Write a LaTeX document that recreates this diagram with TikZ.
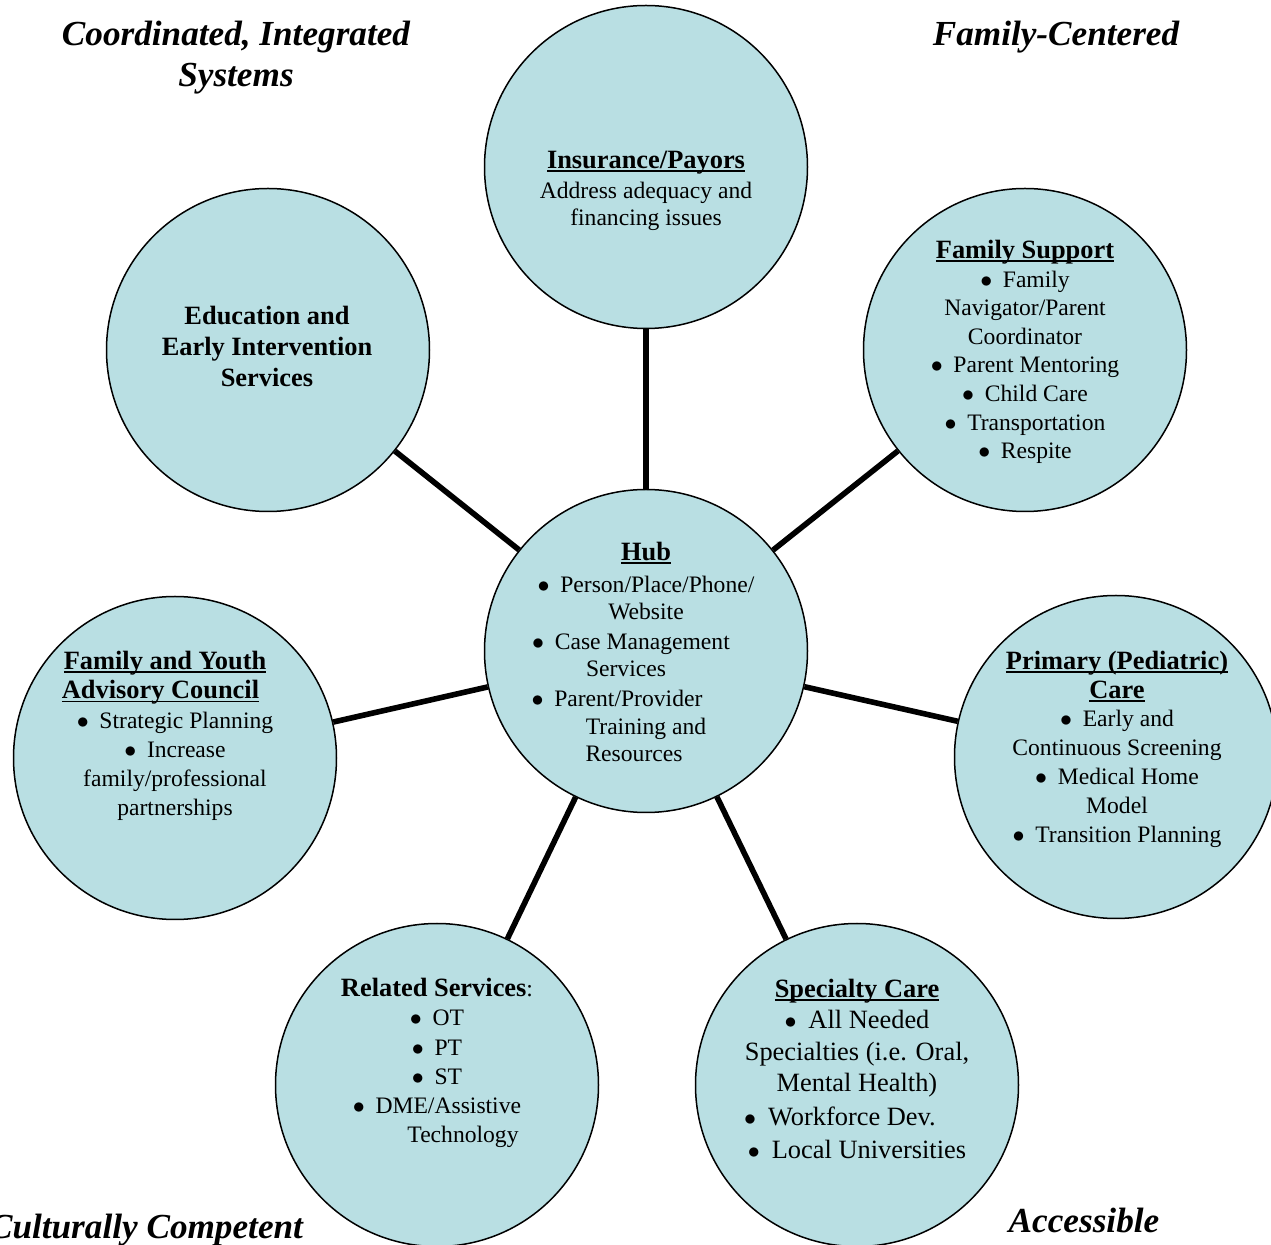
\documentclass[tikz,border=0pt]{standalone}
\usepackage{fontspec}
\setmainfont{Liberation Serif}
\usepackage{tikz}
\usetikzlibrary{calc}
\definecolor{ringblue}{HTML}{B9DFE3}
\newcommand{\dotitem}{$\bullet$\hspace{0.45em}}
\newcommand{\uhead}[1]{{\bfseries\fontsize{13.2}{15.5}\selectfont\setbox0\hbox{#1}\rlap{\rule[-1.8pt]{\wd0}{0.9pt}}\box0}}

\begin{document}
\begin{tikzpicture}[x=0.5pt,y=-0.5pt,
    ring/.style={circle, draw, line width=0.75pt, fill=ringblue, minimum size=161.5pt, inner sep=0pt},
    spoke/.style={line width=2.8pt},
    blurb/.style={align=center, inner sep=0pt},
    corner/.style={align=center, inner sep=0pt, font=\fontsize{17.6}{20.5}\selectfont\bfseries\itshape}]
	\clip (0,0) rectangle (1271,1245);
	% circles
	\node[ring] (hub) at (646,651) {};
	\node[ring] (ins) at (646,167) {};
	\node[ring] (fam) at (1025,350) {};
	\node[ring] (prim) at (1116,757) {};
	\node[ring] (spec) at (857,1085) {};
	\node[ring] (rel) at (437,1085) {};
	\node[ring] (fyac) at (175,758) {};
	\node[ring] (edu) at (268,350) {};
	% spokes
	\foreach \c in {ins,fam,prim,spec,rel,fyac,edu}
		\draw[spoke] (hub) -- (\c);
	% texts
	\node[blurb, font=\fontsize{11.8}{13.8}\selectfont] (hub-t) at (646,652) {\uhead{Hub}\\[2pt]
		\dotitem Person/Place/Phone/\\ Website\\[1pt]
		\dotitem Case Management\kern15pt\\ Services\kern20pt\\[1pt]
		\dotitem Parent/Provider\kern29pt\\ Training and\\ Resources\kern12pt};
	\node[blurb, font=\fontsize{11.8}{13.8}\selectfont] (ins-t) at (646,191) {\uhead{Insurance/Payors}\\[1pt]
		Address adequacy and\\ financing issues};
	\node[blurb, font=\fontsize{11.8}{14.3}\selectfont] (fam-t) at (1025,352) {\uhead{Family Support}\\
		\dotitem Family\\ Navigator/Parent\\ Coordinator\\ \dotitem Parent Mentoring\\
		\dotitem Child Care\\ \dotitem Transportation\\ \dotitem Respite};
	\node[blurb, font=\fontsize{11.8}{14.6}\selectfont] (fyac-t) at (175,736) {\uhead{Family and Youth}\kern10pt\\
		\uhead{Advisory Council}\kern14.5pt\\ \dotitem Strategic Planning\\ \dotitem Increase\\
		family/professional\\ partnerships};
	\node[blurb, font=\fontsize{11.8}{14.4}\selectfont] (prim-t) at (1117,749) {\uhead{Primary (Pediatric)}\\
		\uhead{Care}\\ \dotitem Early and\\ Continuous Screening\\ \dotitem Medical Home\\ Model\\
		\dotitem Transition Planning};
	\node[blurb, font=\fontsize{13.2}{15.5}\selectfont\bfseries] (edu-t) at (267,346) {Education and\\
		Early Intervention\\ Services};
	\node[blurb, font=\fontsize{11.8}{14.6}\selectfont] (rel-t) at (437,1063) {{\bfseries\fontsize{13.2}{15.5}\selectfont Related Services}:\\
		\dotitem OT\\ \dotitem PT\\ \dotitem ST\\ \dotitem DME/Assistive\\ \hspace*{26pt}Technology};
	\node[blurb, font=\fontsize{13.2}{15.7}\selectfont] (spec-t) at (857,1069) {\uhead{Specialty Care}\\
		\dotitem All Needed\\ Specialties (i.e. Oral,\\ Mental Health)\\[1pt]
		\dotitem Workforce Dev.\kern17pt\\[1pt] \dotitem Local Universities};
	% corner words
	\node[corner] (coord) at (236,58) {Coordinated, Integrated\\ Systems};
	\node[corner] (famc) at (1056,37) {Family-Centered};
	\node[corner] (cult) at (146,1230) {Culturally Competent};
	\node[corner] (acc) at (1084,1220) {Accessible};
\end{tikzpicture}
\end{document}
